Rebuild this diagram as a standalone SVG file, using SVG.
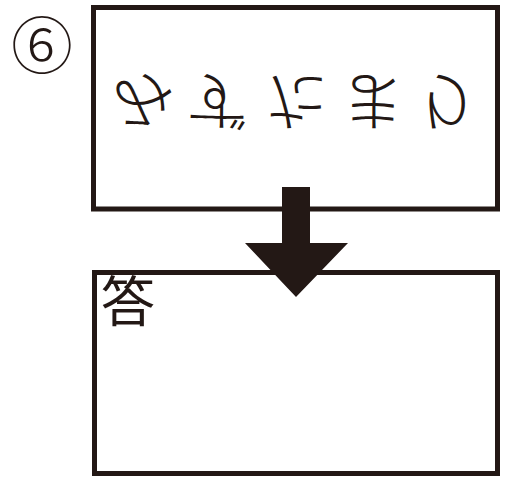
<svg xmlns="http://www.w3.org/2000/svg" width="505" height="477" viewBox="0 0 505 477">
<style>
.box{fill:#ffffff;stroke:#231815;stroke-width:5}
.kana{font-family:"Noto Sans CJK JP","Noto Sans CJK SC",sans-serif;font-size:64px;font-weight:300;fill:#231815;text-anchor:middle}
.lbl{font-family:"Noto Sans CJK JP","Noto Sans CJK SC",sans-serif;fill:#231815}
</style>
<rect width="505" height="477" fill="#ffffff"/>
<g id="number">
<text class="lbl" x="42" y="69" font-size="62" font-weight="300" text-anchor="middle">⑥</text>
</g>
<g id="top-box">
<rect class="box" x="93.5" y="7.5" width="404" height="201.5"/>
<text class="kana" x="0" y="24" transform="translate(143,102) scale(1,-1)">み</text>
<text class="kana" x="0" y="24" transform="translate(218,102) scale(1,-1)">ず</text>
<text class="kana" x="0" y="24" transform="translate(296,102) scale(1,-1)">た</text>
<text class="kana" x="0" y="24" transform="translate(372,102) scale(1,-1)">ま</text>
<text class="kana" x="0" y="24" transform="translate(447,102) scale(1,-1)">り</text>
</g>
<g id="answer-box">
<rect class="box" x="94.5" y="272.5" width="403" height="201"/>
<text class="lbl" x="101" y="322" font-size="54">答</text>
</g>
<g id="connectors">
<polygon points="282,187 310,187 310,243 348,243 296,297 245,243 282,243" fill="#231815"/>
</g>
</svg>
